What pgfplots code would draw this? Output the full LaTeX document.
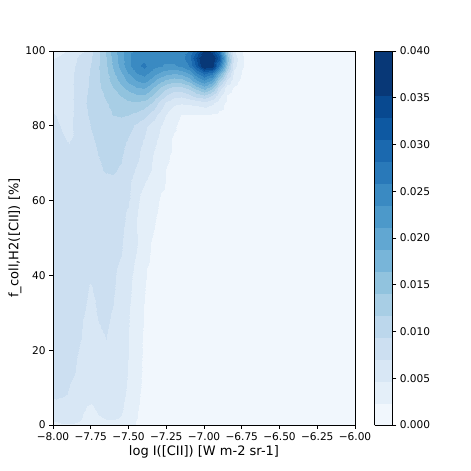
\documentclass[border=0pt]{standalone}
\usepackage{fontspec}
\setmainfont{DejaVu Sans}
\usepackage{pgfplots}
\usepackage{pgfplotstable}
\pgfplotsset{compat=1.18}

% matplotlib "Blues", one colour per contour level (16 levels, 0 .. 0.040)
\pgfplotsset{
  colormap={blues16}{
    rgb255=(241,247,253) rgb255=(228,239,249) rgb255=(216,231,245) rgb255=(204,223,241)
    rgb255=(188,215,236) rgb255=(168,206,229) rgb255=(145,195,222) rgb255=(120,181,217)
    rgb255=(97,167,210)  rgb255=(76,153,202)  rgb255=(58,138,194)  rgb255=(41,121,185)
    rgb255=(27,105,175)  rgb255=(14,89,162)   rgb255=(8,73,144)    rgb255=(8,56,119)
    rgb255=(8,56,119)
  },
}

% KDE density on a 29 x 25 grid, z in units of 1e-3
\pgfplotstableread[row sep=\\]{
x y z\\
-8.00 0 4.0\\ -7.95 0 4.4\\ -7.90 0 4.5\\ -7.85 0 4.4\\ -7.80 0 4.0\\ -7.75 0 3.8\\ -7.70 0 4.0\\ -7.65 0 4.2\\ -7.60 0 4.2\\ -7.55 0 4.0\\ -7.50 0 3.2\\ -7.45 0 2.2\\ -7.40 0 1.6\\ -7.35 0 1.3\\ -7.30 0 1.2\\ -7.25 0 1.1\\ -7.20 0 1.1\\ -7.15 0 1.0\\ -7.10 0 1.0\\ -7.05 0 1.0\\ -7.00 0 1.0\\ -6.95 0 1.0\\ -6.90 0 1.0\\ -6.85 0 1.0\\ -6.80 0 0.9\\ -6.75 0 0.9\\ -6.70 0 0.9\\ -6.50 0 0.8\\ -6.00 0 0.7\\
-8.00 2 5.2\\ -7.95 2 5.6\\ -7.90 2 5.6\\ -7.85 2 5.3\\ -7.80 2 4.6\\ -7.75 2 4.2\\ -7.70 2 4.5\\ -7.65 2 4.8\\ -7.60 2 4.9\\ -7.55 2 4.6\\ -7.50 2 3.6\\ -7.45 2 2.45\\ -7.40 2 1.7\\ -7.35 2 1.4\\ -7.30 2 1.3\\ -7.25 2 1.2\\ -7.20 2 1.1\\ -7.15 2 1.1\\ -7.10 2 1.0\\ -7.05 2 1.0\\ -7.00 2 1.0\\ -6.95 2 1.0\\ -6.90 2 1.0\\ -6.85 2 1.0\\ -6.80 2 0.9\\ -6.75 2 0.9\\ -6.70 2 0.9\\ -6.50 2 0.8\\ -6.00 2 0.7\\
-8.00 5 6.0\\ -7.95 5 6.5\\ -7.90 5 6.5\\ -7.85 5 6.0\\ -7.80 5 4.9\\ -7.75 5 4.5\\ -7.70 5 5.2\\ -7.65 5 5.6\\ -7.60 5 5.6\\ -7.55 5 5.1\\ -7.50 5 4.0\\ -7.45 5 2.6\\ -7.40 5 1.8\\ -7.35 5 1.4\\ -7.30 5 1.3\\ -7.25 5 1.2\\ -7.20 5 1.2\\ -7.15 5 1.1\\ -7.10 5 1.0\\ -7.05 5 1.0\\ -7.00 5 1.0\\ -6.95 5 1.0\\ -6.90 5 1.0\\ -6.85 5 1.0\\ -6.80 5 0.9\\ -6.75 5 0.9\\ -6.70 5 0.9\\ -6.50 5 0.8\\ -6.00 5 0.7\\
-8.00 8 7.4\\ -7.95 8 7.2\\ -7.90 8 7.0\\ -7.85 8 6.6\\ -7.80 8 5.8\\ -7.75 8 5.3\\ -7.70 8 5.9\\ -7.65 8 6.2\\ -7.60 8 6.1\\ -7.55 8 5.4\\ -7.50 8 4.2\\ -7.45 8 2.8\\ -7.40 8 1.9\\ -7.35 8 1.5\\ -7.30 8 1.3\\ -7.25 8 1.2\\ -7.20 8 1.2\\ -7.15 8 1.1\\ -7.10 8 1.1\\ -7.05 8 1.0\\ -7.00 8 1.0\\ -6.95 8 1.0\\ -6.90 8 1.0\\ -6.85 8 1.0\\ -6.80 8 0.9\\ -6.75 8 0.9\\ -6.70 8 0.9\\ -6.50 8 0.8\\ -6.00 8 0.7\\
-8.00 12 8.0\\ -7.95 12 7.6\\ -7.90 12 7.2\\ -7.85 12 6.9\\ -7.80 12 6.4\\ -7.75 12 6.2\\ -7.70 12 6.4\\ -7.65 12 6.6\\ -7.60 12 6.5\\ -7.55 12 5.9\\ -7.50 12 4.5\\ -7.45 12 3.0\\ -7.40 12 2.0\\ -7.35 12 1.6\\ -7.30 12 1.4\\ -7.25 12 1.3\\ -7.20 12 1.2\\ -7.15 12 1.2\\ -7.10 12 1.1\\ -7.05 12 1.1\\ -7.00 12 1.0\\ -6.95 12 1.0\\ -6.90 12 1.0\\ -6.85 12 1.0\\ -6.80 12 1.0\\ -6.75 12 0.9\\ -6.70 12 0.9\\ -6.50 12 0.8\\ -6.00 12 0.7\\
-8.00 20 9.0\\ -7.95 20 8.6\\ -7.90 20 7.8\\ -7.85 20 7.2\\ -7.80 20 6.8\\ -7.75 20 6.7\\ -7.70 20 6.9\\ -7.65 20 7.0\\ -7.60 20 6.8\\ -7.55 20 6.2\\ -7.50 20 4.8\\ -7.45 20 3.2\\ -7.40 20 2.1\\ -7.35 20 1.7\\ -7.30 20 1.5\\ -7.25 20 1.4\\ -7.20 20 1.3\\ -7.15 20 1.2\\ -7.10 20 1.2\\ -7.05 20 1.1\\ -7.00 20 1.1\\ -6.95 20 1.1\\ -6.90 20 1.0\\ -6.85 20 1.0\\ -6.80 20 1.0\\ -6.75 20 0.9\\ -6.70 20 0.9\\ -6.50 20 0.8\\ -6.00 20 0.7\\
-8.00 30 9.2\\ -7.95 30 9.0\\ -7.90 30 8.5\\ -7.85 30 7.7\\ -7.80 30 7.1\\ -7.75 30 6.9\\ -7.70 30 7.1\\ -7.65 30 7.2\\ -7.60 30 7.0\\ -7.55 30 6.4\\ -7.50 30 4.95\\ -7.45 30 3.4\\ -7.40 30 2.3\\ -7.35 30 1.8\\ -7.30 30 1.6\\ -7.25 30 1.4\\ -7.20 30 1.3\\ -7.15 30 1.3\\ -7.10 30 1.2\\ -7.05 30 1.2\\ -7.00 30 1.1\\ -6.95 30 1.1\\ -6.90 30 1.1\\ -6.85 30 1.0\\ -6.80 30 1.0\\ -6.75 30 0.9\\ -6.70 30 0.9\\ -6.50 30 0.8\\ -6.00 30 0.7\\
-8.00 37 9.2\\ -7.95 37 9.0\\ -7.90 37 8.6\\ -7.85 37 7.9\\ -7.80 37 7.2\\ -7.75 37 7.0\\ -7.70 37 7.4\\ -7.65 37 7.4\\ -7.60 37 7.2\\ -7.55 37 6.6\\ -7.50 37 5.4\\ -7.45 37 3.8\\ -7.40 37 2.45\\ -7.35 37 1.9\\ -7.30 37 1.6\\ -7.25 37 1.5\\ -7.20 37 1.4\\ -7.15 37 1.3\\ -7.10 37 1.2\\ -7.05 37 1.2\\ -7.00 37 1.1\\ -6.95 37 1.1\\ -6.90 37 1.1\\ -6.85 37 1.0\\ -6.80 37 1.0\\ -6.75 37 0.9\\ -6.70 37 0.9\\ -6.50 37 0.8\\ -6.00 37 0.7\\
-8.00 42 9.3\\ -7.95 42 9.1\\ -7.90 42 8.7\\ -7.85 42 8.0\\ -7.80 42 7.3\\ -7.75 42 7.4\\ -7.70 42 7.8\\ -7.65 42 7.7\\ -7.60 42 7.3\\ -7.55 42 6.8\\ -7.50 42 5.6\\ -7.45 42 4.3\\ -7.40 42 2.6\\ -7.35 42 2.0\\ -7.30 42 1.7\\ -7.25 42 1.5\\ -7.20 42 1.4\\ -7.15 42 1.3\\ -7.10 42 1.3\\ -7.05 42 1.2\\ -7.00 42 1.2\\ -6.95 42 1.1\\ -6.90 42 1.1\\ -6.85 42 1.0\\ -6.80 42 1.0\\ -6.75 42 0.9\\ -6.70 42 0.9\\ -6.50 42 0.8\\ -6.00 42 0.7\\
-8.00 48 9.3\\ -7.95 48 9.2\\ -7.90 48 8.9\\ -7.85 48 8.2\\ -7.80 48 7.45\\ -7.75 48 7.8\\ -7.70 48 8.1\\ -7.65 48 8.0\\ -7.60 48 7.7\\ -7.55 48 7.3\\ -7.50 48 6.0\\ -7.45 48 4.95\\ -7.40 48 3.5\\ -7.35 48 2.3\\ -7.30 48 1.8\\ -7.25 48 1.6\\ -7.20 48 1.5\\ -7.15 48 1.4\\ -7.10 48 1.3\\ -7.05 48 1.3\\ -7.00 48 1.2\\ -6.95 48 1.2\\ -6.90 48 1.1\\ -6.85 48 1.1\\ -6.80 48 1.0\\ -6.75 48 1.0\\ -6.70 48 0.9\\ -6.50 48 0.8\\ -6.00 48 0.7\\
-8.00 55 9.2\\ -7.95 55 9.2\\ -7.90 55 9.0\\ -7.85 55 8.5\\ -7.80 55 7.9\\ -7.75 55 8.1\\ -7.70 55 8.3\\ -7.65 55 8.3\\ -7.60 55 8.1\\ -7.55 55 7.7\\ -7.50 55 6.6\\ -7.45 55 4.8\\ -7.40 55 3.6\\ -7.35 55 2.7\\ -7.30 55 2.1\\ -7.25 55 1.8\\ -7.20 55 1.6\\ -7.15 55 1.5\\ -7.10 55 1.4\\ -7.05 55 1.3\\ -7.00 55 1.3\\ -6.95 55 1.2\\ -6.90 55 1.2\\ -6.85 55 1.1\\ -6.80 55 1.1\\ -6.75 55 1.0\\ -6.70 55 1.0\\ -6.50 55 0.9\\ -6.00 55 0.8\\
-8.00 62 9.0\\ -7.95 62 9.2\\ -7.90 62 9.1\\ -7.85 62 8.7\\ -7.80 62 8.3\\ -7.75 62 8.4\\ -7.70 62 8.6\\ -7.65 62 8.6\\ -7.60 62 8.5\\ -7.55 62 8.1\\ -7.50 62 7.6\\ -7.45 62 5.3\\ -7.40 62 4.2\\ -7.35 62 3.2\\ -7.30 62 2.45\\ -7.25 62 2.1\\ -7.20 62 1.8\\ -7.15 62 1.6\\ -7.10 62 1.5\\ -7.05 62 1.4\\ -7.00 62 1.3\\ -6.95 62 1.3\\ -6.90 62 1.2\\ -6.85 62 1.2\\ -6.80 62 1.1\\ -6.75 62 1.0\\ -6.70 62 1.0\\ -6.50 62 0.9\\ -6.00 62 0.8\\
-8.00 68 8.9\\ -7.95 68 9.0\\ -7.90 68 8.8\\ -7.85 68 8.4\\ -7.80 68 8.5\\ -7.75 68 8.8\\ -7.70 68 9.2\\ -7.65 68 9.5\\ -7.60 68 9.6\\ -7.55 68 9.2\\ -7.50 68 8.2\\ -7.45 68 6.8\\ -7.40 68 5.6\\ -7.35 68 4.7\\ -7.30 68 3.4\\ -7.25 68 2.3\\ -7.20 68 1.9\\ -7.15 68 1.7\\ -7.10 68 1.6\\ -7.05 68 1.5\\ -7.00 68 1.4\\ -6.95 68 1.3\\ -6.90 68 1.3\\ -6.85 68 1.2\\ -6.80 68 1.1\\ -6.75 68 1.1\\ -6.70 68 1.0\\ -6.50 68 0.9\\ -6.00 68 0.8\\
-8.00 72 8.5\\ -7.95 72 8.3\\ -7.90 72 8.0\\ -7.85 72 7.4\\ -7.80 72 8.2\\ -7.75 72 8.9\\ -7.70 72 9.4\\ -7.65 72 9.8\\ -7.60 72 9.95\\ -7.55 72 9.6\\ -7.50 72 8.6\\ -7.45 72 7.6\\ -7.40 72 6.2\\ -7.35 72 4.95\\ -7.30 72 3.7\\ -7.25 72 2.6\\ -7.20 72 2.0\\ -7.15 72 1.8\\ -7.10 72 1.6\\ -7.05 72 1.5\\ -7.00 72 1.4\\ -6.95 72 1.4\\ -6.90 72 1.3\\ -6.85 72 1.2\\ -6.80 72 1.2\\ -6.75 72 1.1\\ -6.70 72 1.0\\ -6.50 72 0.9\\ -6.00 72 0.8\\
-8.00 76 7.8\\ -7.95 76 7.3\\ -7.90 76 7.0\\ -7.85 76 7.3\\ -7.80 76 8.3\\ -7.75 76 9.1\\ -7.70 76 9.7\\ -7.65 76 10.1\\ -7.60 76 10.4\\ -7.55 76 10.1\\ -7.50 76 9.2\\ -7.45 76 8.1\\ -7.40 76 6.9\\ -7.35 76 5.6\\ -7.30 76 4.4\\ -7.25 76 3.1\\ -7.20 76 2.0\\ -7.15 76 1.8\\ -7.10 76 1.7\\ -7.05 76 1.6\\ -7.00 76 1.5\\ -6.95 76 1.4\\ -6.90 76 1.3\\ -6.85 76 1.3\\ -6.80 76 1.2\\ -6.75 76 1.1\\ -6.70 76 1.0\\ -6.50 76 0.9\\ -6.00 76 0.8\\
-8.00 80 7.6\\ -7.95 80 7.0\\ -7.90 80 6.6\\ -7.85 80 7.4\\ -7.80 80 8.6\\ -7.75 80 9.5\\ -7.70 80 10.1\\ -7.65 80 10.7\\ -7.60 80 11.0\\ -7.55 80 10.8\\ -7.50 80 10.2\\ -7.45 80 9.0\\ -7.40 80 7.7\\ -7.35 80 6.3\\ -7.30 80 5.05\\ -7.25 80 3.6\\ -7.20 80 2.6\\ -7.15 80 1.8\\ -7.10 80 1.7\\ -7.05 80 1.6\\ -7.00 80 1.5\\ -6.95 80 1.4\\ -6.90 80 1.3\\ -6.85 80 1.3\\ -6.80 80 1.2\\ -6.75 80 1.1\\ -6.70 80 1.0\\ -6.50 80 0.9\\ -6.00 80 0.8\\
-8.00 83 7.2\\ -7.95 83 6.8\\ -7.90 83 6.6\\ -7.85 83 7.3\\ -7.80 83 8.8\\ -7.75 83 9.8\\ -7.70 83 10.6\\ -7.65 83 11.2\\ -7.60 83 11.8\\ -7.55 83 12.0\\ -7.50 83 11.8\\ -7.45 83 11.2\\ -7.40 83 10.2\\ -7.35 83 8.6\\ -7.30 83 6.5\\ -7.25 83 4.6\\ -7.20 83 3.1\\ -7.15 83 2.3\\ -7.10 83 2.3\\ -7.05 83 2.3\\ -7.00 83 2.3\\ -6.95 83 2.1\\ -6.90 83 1.8\\ -6.85 83 1.5\\ -6.80 83 1.3\\ -6.75 83 1.2\\ -6.70 83 1.1\\ -6.50 83 0.9\\ -6.00 83 0.8\\
-8.00 86 6.5\\ -7.95 86 6.5\\ -7.90 86 6.6\\ -7.85 86 7.3\\ -7.80 86 9.0\\ -7.75 86 10.1\\ -7.70 86 11.0\\ -7.65 86 11.6\\ -7.60 86 12.4\\ -7.55 86 13.0\\ -7.50 86 13.6\\ -7.45 86 13.8\\ -7.40 86 13.2\\ -7.35 86 11.8\\ -7.30 86 9.0\\ -7.25 86 6.5\\ -7.20 86 5.2\\ -7.15 86 4.9\\ -7.10 86 5.1\\ -7.05 86 5.5\\ -7.00 86 6.0\\ -6.95 86 5.1\\ -6.90 86 3.3\\ -6.85 86 1.8\\ -6.80 86 1.4\\ -6.75 86 1.2\\ -6.70 86 1.1\\ -6.50 86 0.9\\ -6.00 86 0.8\\
-8.00 88 6.2\\ -7.95 88 6.3\\ -7.90 88 6.6\\ -7.85 88 7.3\\ -7.80 88 8.8\\ -7.75 88 10.1\\ -7.70 88 11.2\\ -7.65 88 12.0\\ -7.60 88 13.0\\ -7.55 88 14.2\\ -7.50 88 15.2\\ -7.45 88 16.0\\ -7.40 88 16.0\\ -7.35 88 14.2\\ -7.30 88 11.5\\ -7.25 88 9.2\\ -7.20 88 7.6\\ -7.15 88 7.4\\ -7.10 88 8.5\\ -7.05 88 10.1\\ -7.00 88 11.0\\ -6.95 88 9.0\\ -6.90 88 5.5\\ -6.85 88 2.2\\ -6.80 88 1.6\\ -6.75 88 1.3\\ -6.70 88 1.1\\ -6.50 88 0.9\\ -6.00 88 0.8\\
-8.00 90 6.0\\ -7.95 90 6.2\\ -7.90 90 6.6\\ -7.85 90 7.3\\ -7.80 90 8.6\\ -7.75 90 9.9\\ -7.70 90 11.3\\ -7.65 90 12.6\\ -7.60 90 14.0\\ -7.55 90 15.6\\ -7.50 90 17.2\\ -7.45 90 18.5\\ -7.40 90 19.0\\ -7.35 90 17.0\\ -7.30 90 14.2\\ -7.25 90 12.2\\ -7.20 90 10.8\\ -7.15 90 11.0\\ -7.10 90 12.4\\ -7.05 90 15.1\\ -7.00 90 17.6\\ -6.95 90 14.5\\ -6.90 90 8.5\\ -6.85 90 3.2\\ -6.80 90 2.2\\ -6.75 90 1.5\\ -6.70 90 1.2\\ -6.50 90 1.0\\ -6.00 90 0.8\\
-8.00 92 5.8\\ -7.95 92 6.1\\ -7.90 92 6.6\\ -7.85 92 7.3\\ -7.80 92 8.5\\ -7.75 92 9.8\\ -7.70 92 11.4\\ -7.65 92 13.0\\ -7.60 92 15.1\\ -7.55 92 17.2\\ -7.50 92 19.3\\ -7.45 92 21.0\\ -7.40 92 22.0\\ -7.35 92 20.1\\ -7.30 92 17.4\\ -7.25 92 15.8\\ -7.20 92 14.8\\ -7.15 92 15.1\\ -7.10 92 17.0\\ -7.05 92 20.2\\ -7.00 92 23.0\\ -6.95 92 20.2\\ -6.90 92 13.0\\ -6.85 92 6.5\\ -6.80 92 3.0\\ -6.75 92 1.8\\ -6.70 92 1.2\\ -6.50 92 1.0\\ -6.00 92 0.8\\
-8.00 94 5.6\\ -7.95 94 6.0\\ -7.90 94 6.5\\ -7.85 94 7.3\\ -7.80 94 8.4\\ -7.75 94 9.7\\ -7.70 94 11.5\\ -7.65 94 13.5\\ -7.60 94 16.0\\ -7.55 94 18.6\\ -7.50 94 21.2\\ -7.45 94 23.5\\ -7.40 94 24.5\\ -7.35 94 23.0\\ -7.30 94 21.0\\ -7.25 94 19.8\\ -7.20 94 19.2\\ -7.15 94 19.6\\ -7.10 94 21.5\\ -7.05 94 25.5\\ -7.00 94 29.0\\ -6.95 94 27.0\\ -6.90 94 19.0\\ -6.85 94 10.2\\ -6.80 94 4.0\\ -6.75 94 2.2\\ -6.70 94 1.2\\ -6.50 94 1.0\\ -6.00 94 0.8\\
-8.00 96 5.3\\ -7.95 96 5.8\\ -7.90 96 6.3\\ -7.85 96 7.2\\ -7.80 96 8.3\\ -7.75 96 9.5\\ -7.70 96 11.5\\ -7.65 96 13.8\\ -7.60 96 16.8\\ -7.55 96 19.8\\ -7.50 96 22.6\\ -7.45 96 25.1\\ -7.40 96 26.5\\ -7.35 96 24.8\\ -7.30 96 23.8\\ -7.25 96 23.2\\ -7.20 96 23.2\\ -7.15 96 23.8\\ -7.10 96 26.0\\ -7.05 96 31.0\\ -7.00 96 38.5\\ -6.95 96 37.6\\ -6.90 96 27.0\\ -6.85 96 14.0\\ -6.80 96 5.5\\ -6.75 96 2.55\\ -6.70 96 1.2\\ -6.50 96 1.0\\ -6.00 96 0.8\\
-8.00 98 4.6\\ -7.95 98 5.2\\ -7.90 98 5.8\\ -7.85 98 6.9\\ -7.80 98 8.2\\ -7.75 98 9.3\\ -7.70 98 11.3\\ -7.65 98 14.0\\ -7.60 98 17.2\\ -7.55 98 20.3\\ -7.50 98 23.0\\ -7.45 98 24.6\\ -7.40 98 25.2\\ -7.35 98 24.8\\ -7.30 98 24.3\\ -7.25 98 24.3\\ -7.20 98 24.5\\ -7.15 98 24.8\\ -7.10 98 27.4\\ -7.05 98 33.0\\ -7.00 98 39.2\\ -6.95 98 38.2\\ -6.90 98 32.0\\ -6.85 98 16.0\\ -6.80 98 6.0\\ -6.75 98 2.6\\ -6.70 98 1.2\\ -6.50 98 1.0\\ -6.00 98 0.8\\
-8.00 100 3.5\\ -7.95 100 4.2\\ -7.90 100 4.9\\ -7.85 100 6.0\\ -7.80 100 6.8\\ -7.75 100 8.8\\ -7.70 100 11.0\\ -7.65 100 14.5\\ -7.60 100 17.6\\ -7.55 100 20.3\\ -7.50 100 23.0\\ -7.45 100 23.8\\ -7.40 100 24.0\\ -7.35 100 23.8\\ -7.30 100 23.6\\ -7.25 100 23.6\\ -7.20 100 23.8\\ -7.15 100 24.5\\ -7.10 100 26.0\\ -7.05 100 30.0\\ -7.00 100 36.0\\ -6.95 100 34.5\\ -6.90 100 28.0\\ -6.85 100 14.0\\ -6.80 100 5.1\\ -6.75 100 2.45\\ -6.70 100 1.2\\ -6.50 100 1.0\\ -6.00 100 0.8\\
}\kde

\begin{document}
\begin{tikzpicture}
\useasboundingbox (0,0) rectangle (471pt,471pt);
\begin{axis}[
    at={(53pt,46pt)}, anchor=south west,
    scale only axis,
    width=302pt, height=374pt,
    xmin=-8, xmax=-6,
    ymin=0, ymax=100,
    enlargelimits=false,
    axis on top,
    xtick={-8,-7.75,-7.5,-7.25,-7,-6.75,-6.5,-6.25,-6},
    xticklabels={−8.00,−7.75,−7.50,−7.25,−7.00,−6.75,−6.50,−6.25,−6.00},
    ytick={0,20,40,60,80,100},
    tick align=outside,
    tick pos=left,
    major tick length=3.8pt,
    tick style={black, line width=0.8pt},
    axis line style={line width=0.8pt},
    /pgf/number format/assume math mode=true,
    tick label style={font=\fontsize{10.6pt}{12pt}\selectfont},
    label style={font=\fontsize{13pt}{15pt}\selectfont},
    xlabel={log I([CII]) [W m-2 sr-1]},
    ylabel={f\_coll,H2([CII]) [\%]},
    xlabel style={at={(axis description cs:0.5,-0.072)}, anchor=center},
    ylabel style={at={(axis description cs:-0.126,0.5)}, anchor=center},
    colormap name=blues16,
    colormap access=piecewise constant,
    point meta min=0, point meta max=40,
    colorbar,
    colorbar style={
        at={(parent axis.north east)}, anchor=north west, xshift=11pt,
        width=18pt,
        ytick={0,5,10,15,20,25,30,35,40},
        yticklabels={0.000,0.005,0.010,0.015,0.020,0.025,0.030,0.035,0.040},
        tick align=outside,
        tick pos=right,
        major tick length=3.8pt,
        tick style={black, line width=0.8pt},
        axis line style={line width=0.8pt},
        yticklabel style={font=\fontsize{10.6pt}{12pt}\selectfont},
    },
]
\addplot[surf, shader=interp, mesh/rows=25, mesh/cols=29, point meta=explicit]
    table[x=x, y=y, meta=z] {\kde};
\end{axis}
\end{tikzpicture}
\end{document}
